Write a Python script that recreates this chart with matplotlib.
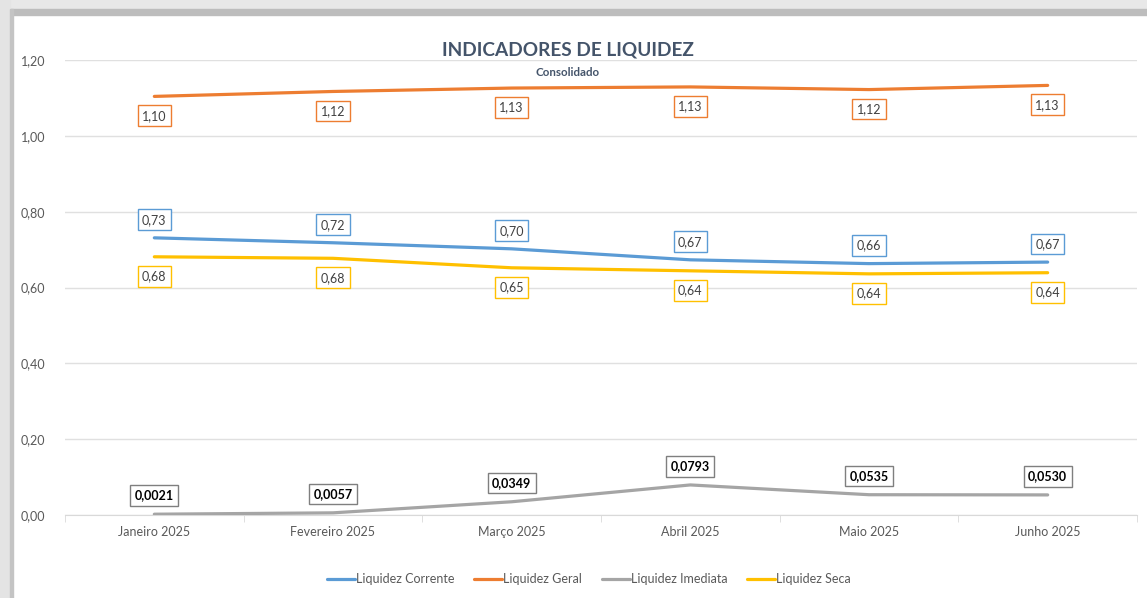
import matplotlib
matplotlib.use("Agg")
import matplotlib.pyplot as plt
from matplotlib.patches import Rectangle

months = ["Janeiro 2025", "Fevereiro 2025", "Março 2025", "Abril 2025", "Maio 2025", "Junho 2025"]
corrente = [0.731, 0.718, 0.702, 0.673, 0.663, 0.667]
geral = [1.104, 1.117, 1.126, 1.129, 1.122, 1.133]
imediata = [0.0021, 0.0057, 0.0349, 0.0793, 0.0535, 0.0530]
seca = [0.681, 0.677, 0.652, 0.644, 0.636, 0.639]
yticks = [0.0, 0.2, 0.4, 0.6, 0.8, 1.0, 1.2]

plt.rcParams["font.family"] = ["Lato", "DejaVu Sans"]
W, H = 1147, 598
fig = plt.figure(figsize=(W / 100, H / 100), dpi=100)

# screenshot frame shading (top and left)
fig.patches.append(Rectangle((0, 1 - 9 / H), 1, 9 / H, transform=fig.transFigure, color="#e8e8e8", zorder=0))
fig.patches.append(Rectangle((0, 1 - 15 / H), 1, 6 / H, transform=fig.transFigure, color="#bdbdbd", zorder=0))
fig.patches.append(Rectangle((0, 0), 10 / W, 1, transform=fig.transFigure, color="#e4e4e4", zorder=0))
fig.patches.append(Rectangle((10 / W, 0), 3 / W, 1 - 9 / H, transform=fig.transFigure, color="#c4c4c4", zorder=0))

ax = fig.add_axes([65 / W, 1 - 515 / H, (1137 - 65) / W, 455 / H])
x = range(len(months))

series = [
    ("Liquidez Corrente", corrente, "#5b9bd5", 13, "{:.2f}", False),
    ("Liquidez Geral", geral, "#ed7d31", -14, "{:.2f}", False),
    ("Liquidez Imediata", imediata, "#a5a5a5", 13.5, "{:.4f}", True),
    ("Liquidez Seca", seca, "#ffc000", -14, "{:.2f}", False),
]
for name, vals, color, off, fmt, bold in series:
    ax.plot(x, vals, color=color, lw=2.3, label=name, solid_capstyle="round", zorder=3)
    edge = "#7f7f7f" if bold else color
    for xi, v in zip(x, vals):
        ax.annotate(fmt.format(v).replace(".", ","), (xi, v), xytext=(0, off),
                    textcoords="offset points", ha="center", va="center",
                    fontsize=9, color="#000000" if bold else "#404040",
                    fontweight="bold" if bold else "normal",
                    bbox=dict(boxstyle="square,pad=0.35", fc="white", ec=edge, lw=1),
                    zorder=4)

ax.set_xlim(-0.5, 5.5)
ax.set_ylim(0, 1.2)
ax.set_yticks(yticks)
ax.set_yticklabels([f"{t:.2f}".replace(".", ",") for t in yticks], fontsize=9, color="#595959")
ax.set_xticks(list(x))
ax.set_xticklabels(months, fontsize=9, color="#595959")
ax.set_xticks([i - 0.5 for i in range(len(months) + 1)], minor=True)
ax.tick_params(axis="x", which="major", length=0, pad=8)
ax.tick_params(axis="x", which="minor", length=5, color="#d9d9d9", direction="out")
ax.tick_params(axis="y", length=0, pad=14)
ax.grid(axis="y", color="#e0e0e0", lw=1)
ax.set_axisbelow(True)
for s in ["top", "right", "left"]:
    ax.spines[s].set_visible(False)
ax.spines["bottom"].set_color("#d9d9d9")

fig.text(568 / W, 1 - 50 / H, "INDICADORES DE LIQUIDEZ", ha="center", va="center",
         fontsize=13.7, fontweight="bold", color="#44546a")
fig.text(568 / W, 1 - 73 / H, "Consolidado", ha="center", va="center",
         fontsize=8.3, fontweight="bold", color="#44546a")

fig.legend(loc="center", bbox_to_anchor=(589 / W, 1 - 579 / H), ncol=4, frameon=False,
           fontsize=9, handlelength=2.2, handletextpad=0.1, columnspacing=1.6,
           labelcolor="#595959")

fig.savefig("out.png", dpi=100)
